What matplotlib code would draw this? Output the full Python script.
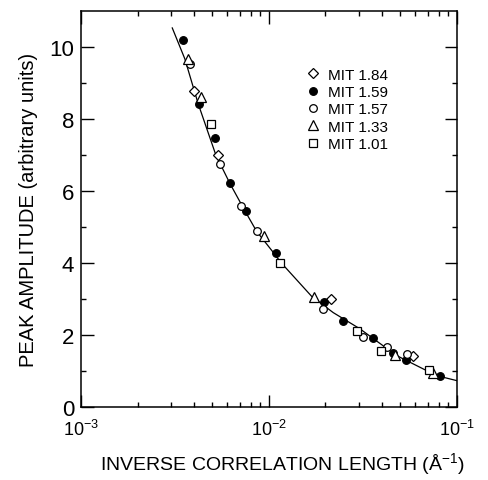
import numpy as np
import matplotlib
matplotlib.use('Agg')
import matplotlib.pyplot as plt
from matplotlib.ticker import FixedLocator, FuncFormatter, LogLocator, NullFormatter

plt.rcParams['font.family'] = ['Liberation Sans', 'DejaVu Sans']
plt.rcParams['mathtext.fontset'] = 'custom'
plt.rcParams['mathtext.rm'] = 'Liberation Sans'

# data: inverse correlation length (1/A) vs peak amplitude
mit184_x = [4.0e-3, 5.34e-3, 2.14e-2, 5.86e-2]
mit184_y = [8.78, 7.0, 2.99, 1.42]

mit159_x = [3.47e-3, 4.26e-3, 5.18e-3, 6.2e-3, 7.6e-3, 1.086e-2, 1.96e-2, 2.48e-2,
            3.6e-2, 4.55e-2, 5.4e-2, 8.15e-2]
mit159_y = [10.2, 8.43, 7.47, 6.21, 5.45, 4.28, 2.92, 2.40, 1.92, 1.50, 1.29, 0.86]

mit157_x = [3.8e-3, 5.47e-3, 7.1e-3, 8.6e-3, 1.95e-2, 3.18e-2, 4.23e-2, 5.45e-2]
mit157_y = [9.53, 6.76, 5.58, 4.88, 2.71, 1.94, 1.66, 1.48]

mit133_x = [3.73e-3, 4.37e-3, 9.4e-3, 1.73e-2, 4.70e-2, 7.48e-2]
mit133_y = [9.67, 8.62, 4.74, 3.06, 1.43, 0.94]

mit101_x = [4.91e-3, 1.15e-2, 2.94e-2, 3.94e-2, 7.1e-2]
mit101_y = [7.86, 4.01, 2.10, 1.56, 1.03]

# fitted curve
curve_x = [3.06e-3, 3.57e-3, 4.2e-3, 5.22e-3, 6.2e-3, 7.45e-3, 8.6e-3, 1.06e-2,
           1.16e-2, 1.69e-2, 2.2e-2, 3.05e-2, 4.77e-2, 7.8e-2, 1.0e-1]
curve_y = [10.53, 9.67, 8.43, 7.0, 6.21, 5.45, 4.88, 4.28,
           4.01, 3.07, 2.62, 2.17, 1.43, 0.87, 0.73]

fig = plt.figure(figsize=(4.88, 4.81), dpi=100)
ax = fig.add_axes([0.166, 0.152, 0.770, 0.823])

ax.plot(curve_x, curve_y, color='black', lw=0.9, zorder=1)

mk = dict(linestyle='none', markeredgecolor='black', markeredgewidth=0.9, zorder=3)
ax.plot(mit184_x, mit184_y, marker='D', ms=5.2, mfc='white', label='MIT 1.84', **mk)
ax.plot(mit159_x, mit159_y, marker='o', ms=5.5, mfc='black', label='MIT 1.59', **mk)
ax.plot(mit157_x, mit157_y, marker='o', ms=5.5, mfc='white', label='MIT 1.57', **mk)
ax.plot(mit133_x, mit133_y, marker='^', ms=6.5, mfc='white', label='MIT 1.33', **mk)
ax.plot(mit101_x, mit101_y, marker='s', ms=6.0, mfc='white', label='MIT 1.01', **mk)

ax.set_xscale('log')
ax.set_xlim(1e-3, 1e-1)
ax.set_ylim(0, 11)

ax.xaxis.set_major_locator(FixedLocator([1e-3, 1e-2, 1e-1]))
ax.xaxis.set_minor_locator(LogLocator(base=10, subs=np.arange(2, 10)))
ax.xaxis.set_minor_formatter(NullFormatter())
ax.xaxis.set_major_formatter(FuncFormatter(
    lambda v, p: r'$\mathregular{10^{%d}}$' % int(round(np.log10(v)))))
ax.yaxis.set_major_locator(FixedLocator([0, 2, 4, 6, 8, 10]))
ax.yaxis.set_minor_locator(FixedLocator([1, 3, 5, 7, 9]))

ax.tick_params(which='both', direction='in', top=True, right=True, width=1.0)
ax.tick_params(which='major', length=9)
ax.tick_params(which='minor', length=3.6)
ax.tick_params(axis='y', labelsize=16, pad=5)
ax.tick_params(axis='x', labelsize=13, pad=9)
for s in ax.spines.values():
    s.set_linewidth(1.1)

ax.set_ylabel('PEAK AMPLITUDE (arbitrary units)', fontsize=14.5, labelpad=8)
ax.set_xlabel(r'INVERSE CORRELATION LENGTH ($\mathregular{\AA^{-1}}$)', fontsize=14,
              labelpad=8)
ax.xaxis.label.set_x(0.535)

ax.legend(loc='upper left', bbox_to_anchor=(0.598, 0.857), frameon=False,
          fontsize=11, handlelength=0.9, handletextpad=0.55, labelspacing=0.22,
          borderpad=0, borderaxespad=0, numpoints=1)

fig.savefig('out.png', dpi=100)
